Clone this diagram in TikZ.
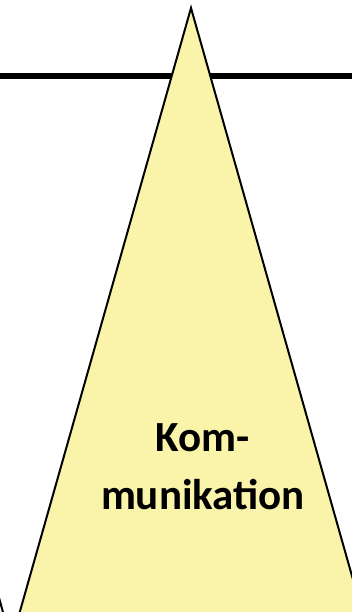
\documentclass[tikz,border=0pt]{standalone}
\usepackage{fontspec}
\setmainfont{Carlito}
\usepackage{tikz}
\definecolor{pillaryellow}{RGB}{249, 244, 170}
\tikzset{
  pillar/.style={
    draw=black, line width=2pt, fill=pillaryellow, line join=miter
  },
  pillarlabel/.style={
    font=\fontsize{43}{58}\selectfont\bfseries, align=center, text=black
  },
  floorline/.style={
    draw=black, line width=6pt
  },
}
\begin{document}
\begin{tikzpicture}[x=1pt, y=-1pt]
  \useasboundingbox (0,0) rectangle (352,612);
  \clip (0,0) rectangle (352,612);
  % horizontal line behind the pillar
  \coordinate (lineL) at (-5,76);
  \coordinate (lineR) at (360,76);
  \draw[floorline] (lineL) -- (lineR);
  % pillar
  \coordinate (apex) at (191,8);
  \coordinate (baseL) at (9,650);
  \coordinate (baseR) at (373,650);
  \draw[pillar] (apex) -- (baseL) -- (baseR) -- cycle;
  \node[pillarlabel] (komm) at (203,467) {Kom-\\munikation};
  % edge of the neighbouring pillar
  \coordinate (nbTop) at (-2,594);
  \coordinate (nbBot) at (4,616);
  \draw[draw=black, line width=2pt] (nbTop) -- (nbBot);
\end{tikzpicture}
\end{document}
